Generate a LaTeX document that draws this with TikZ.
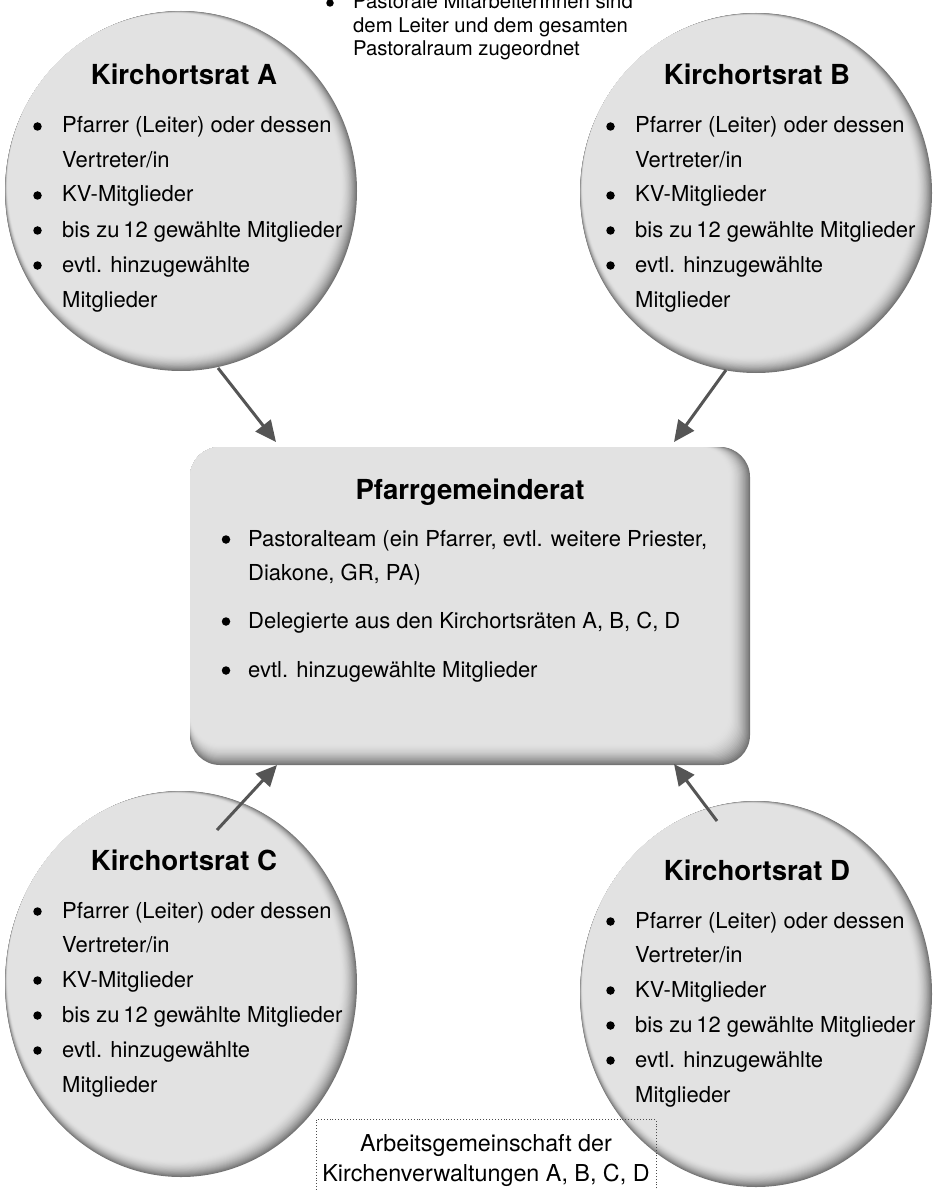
\documentclass[tikz,border=0pt]{standalone}
\usepackage{fontspec}
\setmainfont{TeX Gyre Heros}
\usetikzlibrary{arrows.meta,calc}
\definecolor{base}{HTML}{E2E2E2}
\definecolor{edgec}{HTML}{747474}
\definecolor{arr}{HTML}{555555}
\tikzset{
 ttl/.style={font=\fontsize{27.6}{30}\selectfont\bfseries, anchor=base, inner sep=0pt},
 txt/.style={font=\fontsize{22}{26}\selectfont, anchor=base west, inner sep=0pt},
 bul/.style={circle, fill=black, minimum size=8.5pt, inner sep=0pt},
 toptxt/.style={font=\fontsize{20.3}{24}\selectfont, anchor=base west, inner sep=0pt},
 topbul/.style={circle, fill=black, minimum size=7.5pt, inner sep=0pt},
 agtxt/.style={font=\fontsize{23.3}{26}\selectfont, anchor=base, inner sep=0pt},
 conn/.style={draw=arr, line width=3pt, -{Triangle[length=21pt,width=19pt]}},
 agbox/.style={draw=black!70, dotted, line width=0.9pt, minimum width=340pt, minimum height=100pt, anchor=north, inner sep=0pt},
}
\newcommand\kreisbg[4]{%
 \foreach \k in {0,...,20}{%
   \pgfmathsetmacro\t{1-\k/20}%
   \pgfmathsetmacro\p{100*(1-\t*\t)}%
   \fill[base!\p!edgec] ({#1-0.36*\k}, {#2-0.36*\k}) ellipse [x radius={#3-0.5*\k}, y radius={#4-0.5*\k}];
 }}
\newcommand\kreistext[4]{%
 \node[ttl] (#1t) at ({184+#2}, {85+#3}) {Kirchortsrat #4};
 \node[bul] (#1b1) at ({37.5+#2}, {126.5+#3}) {};
 \node[txt] (#1l1) at ({62+#2}, {133+#3}) {Pfarrer (Leiter) oder dessen};
 \node[txt] (#1l2) at ({62+#2}, {167.5+#3}) {Vertreter/in};
 \node[bul] (#1b3) at ({37.5+#2}, {195.5+#3}) {};
 \node[txt] (#1l3) at ({62+#2}, {202+#3}) {KV-Mitglieder};
 \node[bul] (#1b4) at ({37.5+#2}, {230.5+#3}) {};
 \node[txt] (#1l4) at ({62+#2}, {237+#3}) {bis zu\,12 gewählte Mitglieder};
 \node[bul] (#1b5) at ({37.5+#2}, {265.5+#3}) {};
 \node[txt] (#1l5) at ({62+#2}, {272+#3}) {evtl. hinzugewählte};
 \node[txt] (#1l6) at ({62+#2}, {307+#3}) {Mitglieder};
}
\begin{document}
\begin{tikzpicture}[x=1pt,y=-1pt]
\useasboundingbox (0,0) rectangle (934,1190);
\clip (0,0) rectangle (934,1190);
% circles
\kreisbg{181}{191}{176}{180}
\kreisbg{756}{193}{176}{180}
\kreisbg{181}{984}{176}{193}
\kreisbg{756}{994}{176}{193}
% top note
\node[topbul] (tb) at (330,3) {};
\node[toptxt] (t1) at (353,9) {Pastorale MitarbeiterInnen sind};
\node[toptxt] (t2) at (353,32.5) {dem Leiter und dem gesamten};
\node[toptxt] (t3) at (353,56) {Pastoralraum zugeordnet};
% central box
\foreach \k in {0,...,20}{%
  \pgfmathsetmacro\t{1-\k/20}%
  \pgfmathsetmacro\p{100*(1-\t*\t)}%
  \fill[base!\p!edgec, rounded corners=30pt] (190,447) rectangle ({750-1.1*\k},{765-1.1*\k});
}
\node[ttl] (pt) at (470,499) {Pfarrgemeinderat};
\node[bul] (pb1) at (226,539.5) {};
\node[txt] (p1) at (248,546) {Pastoralteam (ein Pfarrer, evtl. weitere Priester,};
\node[txt] (p2) at (248,580) {Diakone, GR, PA)};
\node[bul] (pb3) at (226,621.5) {};
\node[txt] (p3) at (248,628) {Delegierte aus den Kirchortsräten A, B, C, D};
\node[bul] (pb4) at (226,670.5) {};
\node[txt] (p4) at (248,677) {evtl. hinzugewählte Mitglieder};
% circle texts
\kreistext{a}{0}{0}{A}
\kreistext{b}{573}{0}{B}
\kreistext{c}{0}{785}{C}
\kreistext{d}{573}{795}{D}
% arrows
\coordinate (a0) at (218,368); \coordinate (a1) at (276,442);
\coordinate (b0) at (726,370); \coordinate (b1) at (674,442);
\coordinate (c0) at (217,830); \coordinate (c1) at (277,765);
\coordinate (d0) at (717,821); \coordinate (d1) at (674,764);
\draw[conn] (a0) -- (a1);
\draw[conn] (b0) -- (b1);
\draw[conn] (c0) -- (c1);
\draw[conn] (d0) -- (d1);
% Arbeitsgemeinschaft
\node[agbox] (ag) at (486,1119) {};
\node[agtxt] (ag1) at (486,1151) {Arbeitsgemeinschaft der};
\node[agtxt] (ag2) at (486,1181) {Kirchenverwaltungen A, B, C, D};
\end{tikzpicture}
\end{document}
